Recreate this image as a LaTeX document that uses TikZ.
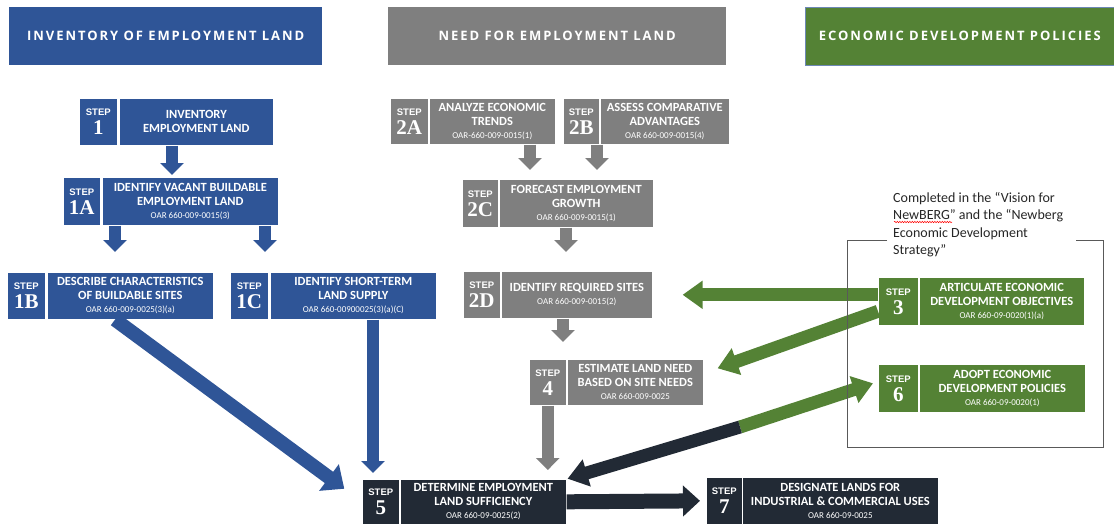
\documentclass[tikz,border=0pt]{standalone}
\usepackage{fontspec}
\setmainfont{Carlito}
\newfontfamily\tagfont{Liberation Sans}
\newfontfamily\numfont{Liberation Serif}
\newfontfamily\hdrfont[LetterSpace=15]{Open Sans}
\usepackage{xcolor}
\usepackage{tikz}
\usetikzlibrary{arrows.meta,positioning,calc,decorations.pathmorphing}
\definecolor{blueS}{HTML}{2F5597}
\definecolor{grayS}{HTML}{7F7F7F}
\definecolor{greenS}{HTML}{548235}
\definecolor{navyS}{HTML}{222A35}
\newcommand{\steplbl}[1]{{\tagfont\bfseries\fontsize{9.5}{10}\selectfont STEP}\\{\numfont\bfseries #1}}
\newcommand{\oar}[1]{\\[-1pt]{\mdseries\fontsize{9}{10}\selectfont #1}}

\begin{document}
\begin{tikzpicture}[
    x=1pt, y=-1pt,
    hdr/.style={anchor=north west, minimum height=58pt, inner sep=0pt,
        text=white, font=\hdrfont\bfseries\fontsize{13}{15}\selectfont},
    tagbox/.style={anchor=north west, draw=white, line width=0.6pt,
        inner sep=0pt, text=white, align=center,
        font=\fontsize{21}{19}\selectfont},
    bodybox/.style={anchor=north west, draw=white, line width=0.6pt,
        inner sep=0pt, text=white, align=center,
        font=\bfseries\fontsize{12.5}{14}\selectfont},
    blk/.style={line width=12pt, -{Triangle[length=12pt,width=23pt]}},
    bigblk/.style={line width=14pt, -{Triangle[length=19pt,width=32pt]}},
    grnblk/.style={line width=13pt, greenS, -{Triangle[length=20pt,width=27pt]}},
]
\useasboundingbox (0,0) rectangle (1114,525);

% column headers
\node[hdr, fill=blueS, minimum width=313pt] (hinv) at (9,7) {INVENTORY OF EMPLOYMENT LAND};
\node[hdr, fill=grayS, minimum width=338pt] (hneed) at (388,7) {NEED FOR EMPLOYMENT LAND};
\node[hdr, fill=greenS, draw=blueS!70, line width=0.6pt, minimum width=309pt] (hecon) at (805,7) {ECONOMIC DEVELOPMENT POLICIES};

% inventory steps
\node[tagbox, fill=blueS, minimum width=38pt, minimum height=47pt] (s1) at (79,98) {\steplbl{1}};
\node[bodybox, fill=blueS, minimum width=154pt, minimum height=47pt] (b1) at (119,98) {INVENTORY\\EMPLOYMENT LAND};

\node[tagbox, fill=blueS, minimum width=37pt, minimum height=48pt] (s1a) at (63,177) {\steplbl{1A}};
\node[bodybox, fill=blueS, minimum width=176pt, minimum height=48pt] (b1a) at (102,177)
    {IDENTIFY VACANT BUILDABLE\\EMPLOYMENT LAND\oar{OAR 660-009-0015(3)}};

\node[tagbox, fill=blueS, minimum width=38pt, minimum height=47pt] (s1b) at (7,272) {\steplbl{1B}};
\node[bodybox, fill=blueS, minimum width=166pt, minimum height=47pt] (b1b) at (47,272)
    {DESCRIBE CHARACTERISTICS\\OF BUILDABLE SITES\oar{OAR 660-009-0025(3)(a)}};

\node[tagbox, fill=blueS, minimum width=38pt, minimum height=47pt] (s1c) at (230,272) {\steplbl{1C}};
\node[bodybox, fill=blueS, minimum width=166pt, minimum height=47pt] (b1c) at (270,272)
    {IDENTIFY SHORT-TERM\\LAND SUPPLY\oar{OAR 660-00900025(3)(a)(C)}};

% need steps
\node[tagbox, fill=grayS, minimum width=38pt, minimum height=46pt] (s2a) at (390,98) {\steplbl{2A}};
\node[bodybox, fill=grayS, minimum width=126pt, minimum height=46pt] (b2a) at (429,98)
    {ANALYZE ECONOMIC\\TRENDS\oar{OAR-660-009-0015(1)}};

\node[tagbox, fill=grayS, minimum width=36pt, minimum height=46pt] (s2b) at (563,98) {\steplbl{2B}};
\node[bodybox, fill=grayS, minimum width=129pt, minimum height=46pt] (b2b) at (600,98)
    {ASSESS COMPARATIVE\\ADVANTAGES\oar{OAR 660-009-0015(4)}};

\node[tagbox, fill=grayS, minimum width=36pt, minimum height=48pt] (s2c) at (462,179) {\steplbl{2C}};
\node[bodybox, fill=grayS, minimum width=154pt, minimum height=48pt] (b2c) at (499,179)
    {FORECAST EMPLOYMENT\\GROWTH\oar{OAR 660-009-0015(1)}};

\node[tagbox, fill=grayS, minimum width=37pt, minimum height=47pt] (s2d) at (463,271) {\steplbl{2D}};
\node[bodybox, fill=grayS, minimum width=151pt, minimum height=47pt] (b2d) at (501,271)
    {IDENTIFY REQUIRED SITES\oar{OAR 660-009-0015(2)}};

\node[tagbox, fill=grayS, minimum width=37pt, minimum height=46pt] (s4) at (529,359) {\steplbl{4}};
\node[bodybox, fill=grayS, minimum width=136pt, minimum height=46pt] (b4) at (567,359)
    {ESTIMATE LAND NEED\\BASED ON SITE NEEDS\oar{OAR 660-009-0025}};

% policy steps
\node[tagbox, fill=greenS, minimum width=40pt, minimum height=48pt] (s3) at (878,277) {\steplbl{3}};
\node[bodybox, fill=greenS, minimum width=165pt, minimum height=48pt] (b3) at (919,277)
    {ARTICULATE ECONOMIC\\DEVELOPMENT OBJECTIVES\oar{OAR 660-09-0020(1)(a)}};

\node[tagbox, fill=greenS, minimum width=40pt, minimum height=48pt] (s6) at (878,364) {\steplbl{6}};
\node[bodybox, fill=greenS, minimum width=166pt, minimum height=48pt] (b6) at (919,364)
    {ADOPT ECONOMIC\\DEVELOPMENT POLICIES\oar{OAR 660-09-0020(1)}};

% final steps
\node[tagbox, fill=navyS, minimum width=37pt, minimum height=45pt] (s5) at (362,479) {\steplbl{5}};
\node[bodybox, fill=navyS, minimum width=166pt, minimum height=45pt] (b5) at (400,479)
    {DETERMINE EMPLOYMENT\\LAND SUFFICIENCY\oar{OAR 660-09-0025(2)}};

\node[tagbox, fill=navyS, minimum width=36pt, minimum height=47pt] (s7) at (706,477) {\steplbl{7}};
\node[bodybox, fill=navyS, minimum width=196pt, minimum height=47pt] (b7) at (742,477)
    {DESIGNATE LANDS FOR\\INDUSTRIAL \& COMMERCIAL USES\oar{OAR 660-09-0025}};

% blue arrows
\draw[blk, blueS, shorten >=2pt] ([xshift=93pt]s1.south west) -- ([xshift=93pt]s1.south west |- b1a.north);
\draw[blk, blueS, shorten >=20pt] ([xshift=13pt]b1a.south west) -- ([xshift=13pt]b1a.south west |- b1b.north);
\draw[blk, blueS, shorten >=20pt] ([xshift=163pt]b1a.south west) -- ([xshift=163pt]b1a.south west |- b1c.north);
\draw[blk, blueS, shorten >=6pt] ([xshift=103pt]b1c.south west) -- ([xshift=103pt]b1c.south west |- b5.north);
\draw[bigblk, blueS, shorten >=22pt] ([xshift=68pt]b1b.south west) -- (s5.west);

% gray arrows
\draw[blk, grayS, shorten >=9pt] ([xshift=101pt]b2a.south west) -- ([xshift=101pt]b2a.south west |- b2c.north);
\draw[blk, grayS, shorten >=9pt] ([xshift=-3pt]b2b.south west) -- ([xshift=-3pt]b2b.south west |- b2c.north);
\draw[blk, grayS, shorten >=19pt] ([xshift=67pt]b2c.south west) -- ([xshift=67pt]b2c.south west |- b2d.north);
\draw[blk, grayS, shorten >=17pt] ([xshift=62pt]b2d.south west) -- ([xshift=62pt]b2d.south west |- b4.north);
\draw[blk, grayS, shorten >=9pt] (s4.south) -- (s4.south |- b5.north);

% green and dark arrows
\coordinate (mid) at (740,427);
\draw[grnblk, shorten >=30pt] (s3.west |- b2d.east) -- (b2d.east);
\draw[grnblk] ([yshift=-10pt]s3.west) -- ([xshift=14pt,yshift=14pt]b4.east);
\draw[grnblk] (mid) -- ([xshift=-5pt,yshift=5pt]s6.west);
\draw[line width=13pt, navyS, -{Triangle[length=20pt,width=27pt]}, shorten >=1pt] (mid) -- (b5.north east);
\draw[line width=15pt, navyS, -{Triangle[length=17pt,width=30pt]}, shorten >=6pt] (b5.east) -- (s7.west);

% note and bracket
\node[anchor=north west, align=left, inner sep=0pt, text=black!85,
    font=\fontsize{14}{17.5}\selectfont] (note) at (893,192)
    {Completed in the “Vision for\\NewBERG” and the “Newberg\\Economic Development\\Strategy”};
\draw[red, line width=0.5pt, decorate, decoration={snake, amplitude=0.7pt, segment length=2.5pt}]
    ([shift={(1,30)}]note.north west) -- ++(58,0);
\draw[black!65, line width=0.8pt] (887,240) -- (847,240) -- (847,447) -- (1103,447) -- (1103,240) -- (1076,240);
\end{tikzpicture}
\end{document}
